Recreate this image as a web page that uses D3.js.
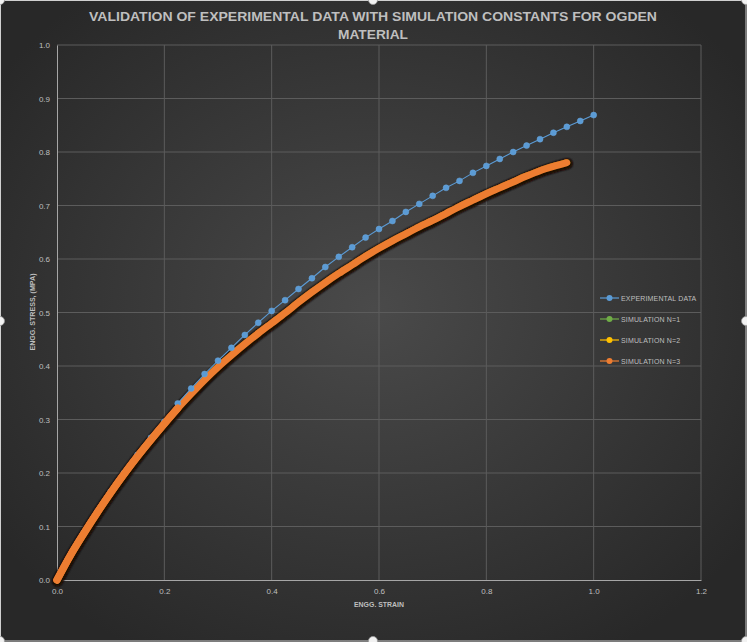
<!DOCTYPE html>
<html>
<head>
<meta charset="utf-8">
<title>Ogden validation</title>
<script src="https://cdn.jsdelivr.net/npm/d3@7"></script>
<style>
  html, body { margin:0; padding:0; background:#2a2a2a; }
  svg { display:block; }
  text { font-family:'Liberation Sans',Arial,sans-serif; fill:#bfbfbf; }
</style>
</head>
<body>
<svg id="chart" width="747" height="642"></svg>
<script>
// strain values (engg. strain), step 0.025
var expStrain=[0,0.025,0.05,0.075,0.1,0.125,0.15,0.175,0.2,0.225,0.25,0.275,0.3,0.325,0.35,0.375,
  0.4,0.425,0.45,0.475,0.5,0.525,0.55,0.575,0.6,0.625,0.65,0.675,0.7,0.725,0.75,0.775,
  0.8,0.825,0.85,0.875,0.9,0.925,0.95,0.975,1.0];
var expStress=[0,0.046,0.088,0.127,0.165,0.200,0.234,0.266,0.296,0.330,0.358,0.385,0.410,0.434,0.458,0.481,
  0.503,0.523,0.544,0.564,0.585,0.604,0.622,0.640,0.656,0.671,0.688,0.703,0.718,0.733,0.746,0.761,
  0.774,0.787,0.800,0.812,0.824,0.836,0.847,0.858,0.869];

var simStrain=[0,0.025,0.05,0.075,0.1,0.125,0.15,0.175,0.2,0.225,0.25,0.275,0.3,0.325,0.35,0.375,
  0.4,0.425,0.45,0.475,0.5,0.525,0.55,0.575,0.6,0.625,0.65,0.675,0.7,0.725,0.75,0.775,
  0.8,0.825,0.85,0.875,0.9,0.925,0.95];
var simN1=[0,0.046,0.087,0.126,0.163,0.198,0.231,0.262,0.292,0.321,0.348,0.374,0.398,0.420,0.441,0.461,
  0.480,0.499,0.519,0.538,0.556,0.573,0.589,0.605,0.620,0.634,0.647,0.660,0.672,0.685,0.698,0.710,
  0.722,0.733,0.744,0.755,0.765,0.773,0.780];
var simN2=[0,0.046,0.087,0.126,0.163,0.198,0.231,0.262,0.292,0.321,0.348,0.374,0.398,0.420,0.441,0.461,
  0.480,0.499,0.519,0.538,0.556,0.573,0.589,0.605,0.620,0.634,0.647,0.660,0.672,0.685,0.698,0.710,
  0.722,0.733,0.744,0.755,0.765,0.773,0.780];
var simN3=[0,0.046,0.087,0.126,0.163,0.198,0.231,0.262,0.292,0.321,0.348,0.374,0.398,0.420,0.441,0.461,
  0.480,0.499,0.519,0.538,0.556,0.573,0.589,0.605,0.620,0.634,0.647,0.660,0.672,0.685,0.698,0.710,
  0.722,0.733,0.744,0.755,0.765,0.773,0.780];

var xTicks=[0,0.2,0.4,0.6,0.8,1.0,1.2];
var yTicks=[0,0.1,0.2,0.3,0.4,0.5,0.6,0.7,0.8,0.9,1.0];
var seriesNames=['EXPERIMENTAL DATA','SIMULATION N=1','SIMULATION N=2','SIMULATION N=3'];
var seriesColors=['#5b9bd5','#70ad47','#ffc000','#ed7d31'];
var titleLines=['VALIDATION OF EXPERIMENTAL DATA WITH SIMULATION CONSTANTS FOR OGDEN','MATERIAL'];

var W=747,H=642;
var svg=d3.select('#chart');
var defs=svg.append('defs');
var bg=defs.append('radialGradient').attr('id','bg')
  .attr('cx','50%').attr('cy','48%').attr('r','62%');
bg.append('stop').attr('offset','0%').attr('stop-color','#4a4a4a');
bg.append('stop').attr('offset','100%').attr('stop-color','#282828');
defs.append('filter').attr('id','blur').append('feGaussianBlur').attr('stdDeviation',1);

svg.append('rect').attr('width',W).attr('height',H).attr('fill','url(#bg)');
svg.append('rect').attr('x',0.5).attr('y',0.5).attr('width',W-1.5).attr('height',H-1.5)
  .attr('fill','none').attr('stroke','#d0d0d0').attr('stroke-width',1);

var x=d3.scaleLinear().domain([0,1.2]).range([57,701]);
var y=d3.scaleLinear().domain([0,1]).range([580,45]);

// gridlines
var g=svg.append('g');
g.selectAll('.hg').data(yTicks.slice(1)).enter().append('line')
  .attr('x1',x(0)).attr('x2',x(1.2)).attr('y1',d=>y(d)).attr('y2',d=>y(d))
  .attr('stroke','#5c5c5c').attr('stroke-width',1);
g.selectAll('.vg').data(xTicks.slice(1)).enter().append('line')
  .attr('y1',y(0)).attr('y2',y(1)).attr('x1',d=>x(d)).attr('x2',d=>x(d))
  .attr('stroke','#5c5c5c').attr('stroke-width',1);

// axes
var xAxis=d3.axisBottom(x).tickValues(xTicks).tickFormat(d3.format('.1f')).tickSize(0).tickPadding(8);
var yAxis=d3.axisLeft(y).tickValues(yTicks).tickFormat(d3.format('.1f')).tickSize(0).tickPadding(7);
var gx=svg.append('g').attr('transform','translate(0,'+y(0)+')').call(xAxis);
var gy=svg.append('g').attr('transform','translate('+x(0)+',0)').call(yAxis);
[gx,gy].forEach(function(a){
  a.select('.domain').attr('stroke','#a6a6a6').attr('stroke-width',1);
  a.selectAll('text').attr('fill','#bfbfbf').style('font-size','8px')
   .style('font-family',"'Liberation Sans Narrow','Liberation Sans',sans-serif");
});

svg.append('text').attr('x',379).attr('y',607).attr('text-anchor','middle')
  .style('font-size','7px').style('font-weight','bold').attr('textLength',50)
  .attr('lengthAdjust','spacingAndGlyphs').text('ENGG. STRAIN');
svg.append('text').attr('transform','translate(35,312) rotate(-90)').attr('text-anchor','middle')
  .style('font-size','7px').style('font-weight','bold').attr('textLength',77)
  .attr('lengthAdjust','spacingAndGlyphs').text('ENGG. STRESS, (MPA)');

// title
var titleW=[568,70];
titleLines.forEach(function(t,i){
  svg.append('text').attr('x',373).attr('y',21+i*18).attr('text-anchor','middle')
    .style('font-size','12.5px').style('font-weight','bold').attr('fill','#d9d9d9')
    .attr('textLength',titleW[i]).attr('lengthAdjust','spacingAndGlyphs').text(t);
});

// series
var line=d3.line().x(d=>x(d[0])).y(d=>y(d[1])).curve(d3.curveMonotoneX);
var plot=svg.append('g');
function pairs(xs,ys){ return xs.map((v,i)=>[v,ys[i]]); }
var sims=[simN1,simN2,simN3];
sims.forEach(function(s,i){
  var pts=pairs(simStrain,s);
  plot.append('path').datum(pts).attr('d',line).attr('fill','none')
    .attr('stroke','#1e0e04').attr('stroke-width',9.5).attr('stroke-linecap','round')
    .attr('stroke-linejoin','round').attr('opacity',0.8).attr('filter','url(#blur)')
    .attr('transform','translate(0.6,1)');
  plot.append('path').datum(pts).attr('d',line).attr('fill','none')
    .attr('stroke',seriesColors[i+1]).attr('stroke-width',7).attr('stroke-linecap','round')
    .attr('stroke-linejoin','round');
});

var expPts=pairs(expStrain,expStress);
plot.append('path').datum(expPts).attr('d',d3.line().x(d=>x(d[0])).y(d=>y(d[1])))
  .attr('fill','none').attr('stroke',seriesColors[0]).attr('stroke-width',1.1);
plot.selectAll('.em').data(expPts).enter().append('circle')
  .attr('cx',d=>x(d[0])).attr('cy',d=>y(d[1])).attr('r',3)
  .attr('fill',seriesColors[0]).attr('stroke','#6aa6dc').attr('stroke-width',0.5);

// N=3 covers the experimental points in the lower range
plot.append('path').datum(pairs(simStrain,simN3).slice(0,10)).attr('d',line).attr('fill','none')
  .attr('stroke',seriesColors[3]).attr('stroke-width',7.5).attr('stroke-linecap','round')
  .attr('stroke-linejoin','round');

// legend
var lg=svg.append('g');
seriesNames.forEach(function(n,i){
  var yy=298+i*21;
  lg.append('line').attr('x1',600).attr('x2',619).attr('y1',yy).attr('y2',yy)
    .attr('stroke',seriesColors[i]).attr('stroke-width',1.2);
  lg.append('circle').attr('cx',609.5).attr('cy',yy).attr('r',3).attr('fill',seriesColors[i]);
  lg.append('text').attr('x',621).attr('y',yy+2.5).style('font-size','7px')
    .style('letter-spacing','0.15px').attr('fill','#bfbfbf').text(n);
});

// selection handles
var handles=[[0,0],[373,0],[W-1,0],[0,H/2],[W-1,H/2],[0,H-1],[373,H-1],[W-1,H-1]];
svg.selectAll('.hd').data(handles).enter().append('circle')
  .attr('cx',d=>d[0]).attr('cy',d=>d[1]).attr('r',4.5)
  .attr('fill','#f2f2f2').attr('stroke','#9a9a9a').attr('stroke-width',0.8);
</script>
</body>
</html>
